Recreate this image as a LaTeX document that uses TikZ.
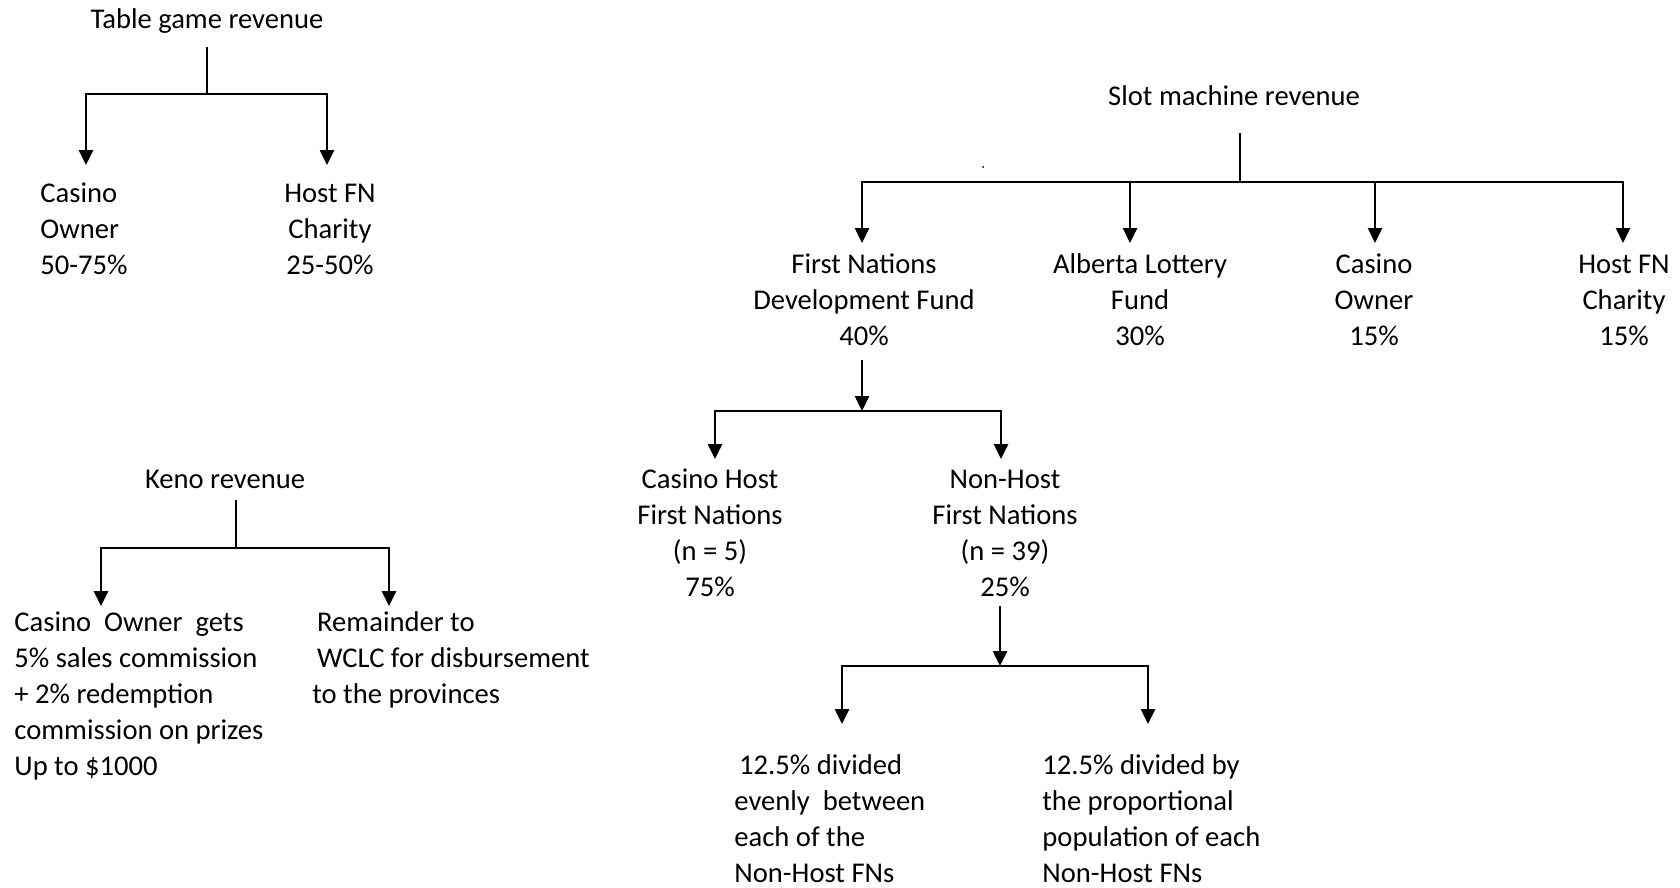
\documentclass[tikz,border=0pt]{standalone}
\usepackage{fontspec}
\setmainfont{Carlito}
\usetikzlibrary{arrows.meta}
\begin{document}
\begin{tikzpicture}[x=0.5pt,y=-0.5pt,
  lbl/.style={font=\fontsize{14.3}{17.9}\selectfont, inner sep=0pt, anchor=base},
  lblc/.style={lbl, align=center},
  lbll/.style={lbl, align=left, anchor=base west},
  ln/.style={line width=1.3pt},
  arr/.style={ln, -{Triangle[length=7.5pt,width=7pt]}}]
\useasboundingbox (0,0) rectangle (1680,888);

% Table game
\node[lblc] (tg) at (207,29) {Table game revenue};
\node[lbll] (tgco) at (40,274) {Casino\\Owner\\50-75\%};
\node[lblc] (tgfn) at (330,274) {Host FN\\Charity\\25-50\%};
\coordinate (tgtop) at (207,47);
\coordinate (tgbus) at (207,94);
\coordinate (tgcoA) at (86,165);
\coordinate (tgfnA) at (327,165);
\draw[ln] (tgtop) -- (tgbus);
\draw[arr] (tgbus) -| (tgcoA);
\draw[arr] (tgbus) -| (tgfnA);

% Slot machine
\node[lblc] (sm) at (1234,105) {Slot machine revenue};
\node[lblc] (fndf) at (864,345) {First Nations\\Development Fund\\40\%};
\node[lblc] (alf) at (1140,345) {Alberta Lottery\\Fund\\30\%};
\node[lblc] (smco) at (1374,345) {Casino\\Owner\\15\%};
\node[lblc] (smfn) at (1624,345) {Host FN\\Charity\\15\%};
\coordinate (smtop) at (1240,133);
\coordinate (smbus) at (1240,182);
\coordinate (fndfA) at (862,243);
\coordinate (alfA) at (1130,243);
\coordinate (smcoA) at (1375,243);
\coordinate (smfnA) at (1623,243);
\draw[ln] (smtop) -- (smbus);
\draw[arr] (smbus) -| (fndfA);
\draw[arr] (smbus) -| (alfA);
\draw[arr] (smbus) -| (smcoA);
\draw[arr] (smbus) -| (smfnA);
\fill (983,167) circle (0.5pt);

% First Nations Development Fund split
\node[lblc] (chfn) at (710,596) {Casino Host\\First Nations\\(n = 5)\\75\%};
\node[lblc] (nhfn) at (1005,596) {Non-Host\\First Nations\\(n = 39)\\25\%};
\coordinate (fntop) at (862,360);
\coordinate (fnbus) at (862,411);
\coordinate (chfnA) at (715,459);
\coordinate (nhfnA) at (1001,459);
\draw[arr] (fntop) -- (fnbus);
\draw[arr] (fnbus) -| (chfnA);
\draw[arr] (fnbus) -| (nhfnA);

% Non-Host split
\node[lbll] (even) at (734,882) {\,12.5\% divided\\evenly~ between\\each of the\\Non-Host FNs};
\node[lbll] (prop) at (1042,882) {12.5\% divided by\\the proportional\\population of each\\Non-Host FNs};
\coordinate (nhtop) at (1000,606);
\coordinate (nhbus) at (1000,666);
\coordinate (evenA) at (842,724);
\coordinate (propA) at (1148,724);
\draw[arr] (nhtop) -- (nhbus);
\draw[arr] (nhbus) -| (evenA);
\draw[arr] (nhbus) -| (propA);

% Keno
\node[lblc] (keno) at (225,488) {Keno revenue};
\node[lbll] (kco) at (14,775) {Casino~ Owner~ gets\\5\% sales commission\\+ 2\% redemption\\commission on prizes\\Up to \$1000};
\node[lbll] (wclc) at (312,703) {\,Remainder to\\\,WCLC for disbursement\\to the provinces};
\coordinate (ktop) at (236,500);
\coordinate (kbus) at (236,548);
\coordinate (kcoA) at (101,606);
\coordinate (wclcA) at (389,606);
\draw[ln] (ktop) -- (kbus);
\draw[arr] (kbus) -| (kcoA);
\draw[arr] (kbus) -| (wclcA);
\end{tikzpicture}
\end{document}
